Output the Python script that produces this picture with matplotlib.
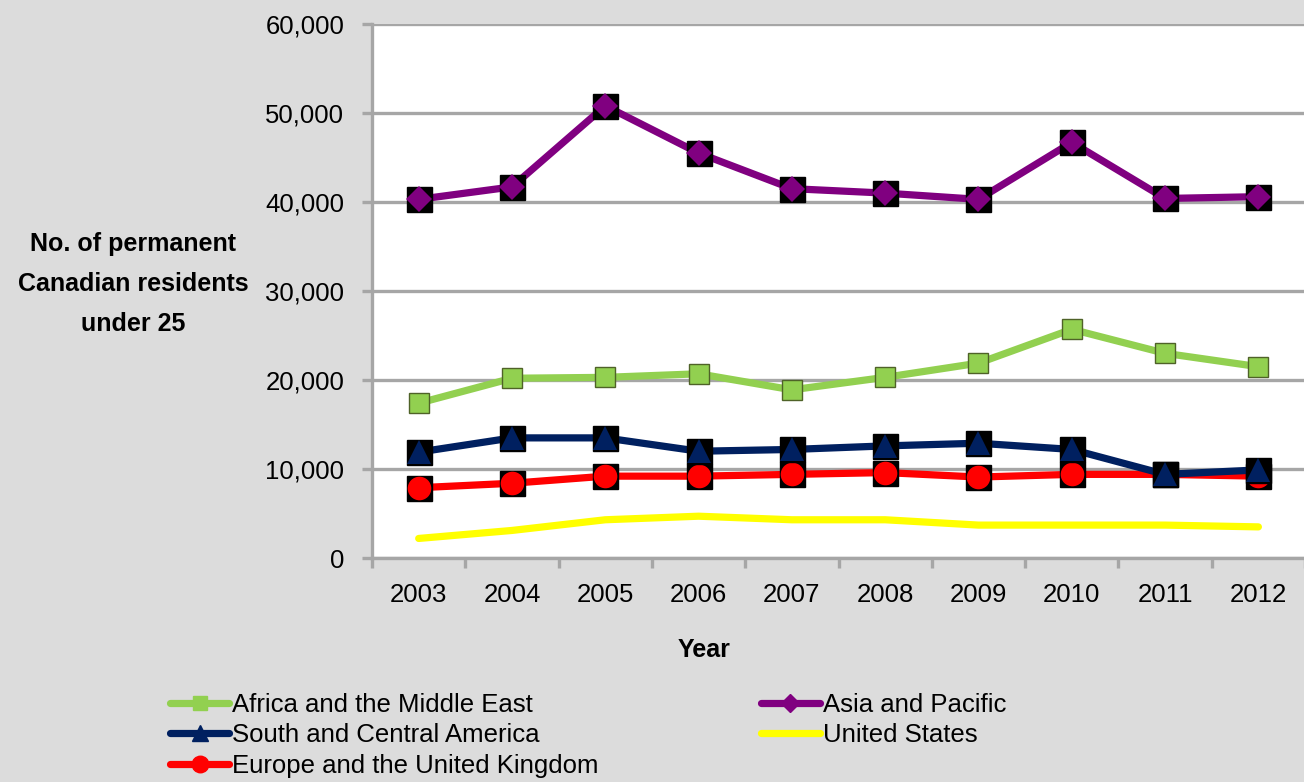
import matplotlib

matplotlib.use("Agg")

import matplotlib.pyplot as plt
import numpy as np
from matplotlib.lines import Line2D
from matplotlib.ticker import FuncFormatter

YEARS = ["2003", "2004", "2005", "2006", "2007", "2008", "2009", "2010", "2011", "2012"]

AFRICA_MIDDLE_EAST = [17400, 20200, 20300, 20700, 18900, 20300, 21900, 25700, 23000, 21500]
ASIA_PACIFIC = [40300, 41700, 50800, 45500, 41500, 41000, 40300, 46700, 40400, 40600]
SOUTH_CENTRAL_AMERICA = [11900, 13500, 13500, 12000, 12200, 12600, 12900, 12200, 9400, 9900]
UNITED_STATES = [2200, 3100, 4300, 4700, 4300, 4300, 3700, 3700, 3700, 3500]
EUROPE_UK = [7900, 8400, 9200, 9200, 9400, 9600, 9100, 9400, 9400, 9200]

BG = "#dcdcdc"
GRID = "#a6a6a6"

plt.rcParams["font.family"] = ["Liberation Sans Narrow", "Liberation Sans", "DejaVu Sans"]

fig = plt.figure(figsize=(13.04, 7.82), dpi=100, facecolor=BG)
ax = fig.add_axes([0.2853, 0.2864, 0.7155, 0.6829])
ax.set_facecolor("white")

x = np.arange(len(YEARS))
lw = 5.2

# (label, values, colour, marker, marker size, black backing square)
series = [
    ("Africa and the Middle East", AFRICA_MIDDLE_EAST, "#92d050", "s", 15, False),
    ("South and Central America", SOUTH_CENTRAL_AMERICA, "#002060", "^", 17, True),
    ("Europe and the United Kingdom", EUROPE_UK, "#ff0000", "o", 17, True),
    ("Asia and Pacific", ASIA_PACIFIC, "#800080", "D", 13, True),
    ("United States", UNITED_STATES, "#ffff00", None, 0, False),
]

draw_order = [4, 2, 1, 0, 3]
for z, i in enumerate(draw_order):
    label, vals, color, marker, ms, backing = series[i]
    ax.plot(x, vals, color=color, lw=lw, solid_capstyle="round",
            solid_joinstyle="round", zorder=3 + z * 0.1)
    if backing:
        ax.plot(x, vals, ls="none", marker="s", ms=18, mfc="black", mec="black",
                zorder=3.05 + z * 0.1)
    if marker:
        ec = "#4f6228" if marker == "s" else color
        ax.plot(x, vals, ls="none", marker=marker, ms=ms, mfc=color, mec=ec,
                mew=1 if marker == "s" else 0, zorder=3.08 + z * 0.1)

ax.set_xlim(-0.5, len(YEARS) - 0.5)
ax.set_ylim(0, 60000)
ax.set_yticks(np.arange(0, 60001, 10000))
ax.yaxis.set_major_formatter(FuncFormatter(lambda v, p: f"{int(v):,}"))
ax.grid(axis="y", color=GRID, lw=2.4, zorder=1)

ax.set_xticks(x)
ax.set_xticklabels(YEARS)
ax.set_xticks(np.arange(-0.5, len(YEARS), 1.0), minor=True)
ax.tick_params(axis="x", which="major", length=0, pad=18, labelsize=18.5)
ax.tick_params(axis="x", which="minor", length=7, width=2.4, color=GRID, direction="out")
ax.tick_params(axis="y", length=7, width=2.4, color=GRID, pad=13, labelsize=18.5)

for side in ["top", "right"]:
    ax.spines[side].set_visible(False)
for side in ["left", "bottom"]:
    ax.spines[side].set_color(GRID)
    ax.spines[side].set_linewidth(2.4)

fig.text(0.102, 0.637, "No. of permanent\nCanadian residents\nunder 25", ha="center",
         va="center", fontsize=18, fontweight="bold", linespacing=1.85)
fig.text(0.54, 0.169, "Year", ha="center", va="center", fontsize=18, fontweight="bold")

handles = []
for label, vals, color, marker, ms, backing in series:
    handles.append(Line2D([], [], color=color, lw=lw, solid_capstyle="round",
                          marker=marker, ms=ms * 0.7 if marker else 0, mfc=color, mec=color,
                          label=label))

fig.legend(handles=handles, loc="upper left", bbox_to_anchor=(0.1225, 0.127),
           ncol=2, frameon=False, fontsize=18.5, handlelength=2.3, handletextpad=0.12,
           labelspacing=0.25, columnspacing=6.3, borderaxespad=0)

fig.savefig("out.png", dpi=100, facecolor=BG)
